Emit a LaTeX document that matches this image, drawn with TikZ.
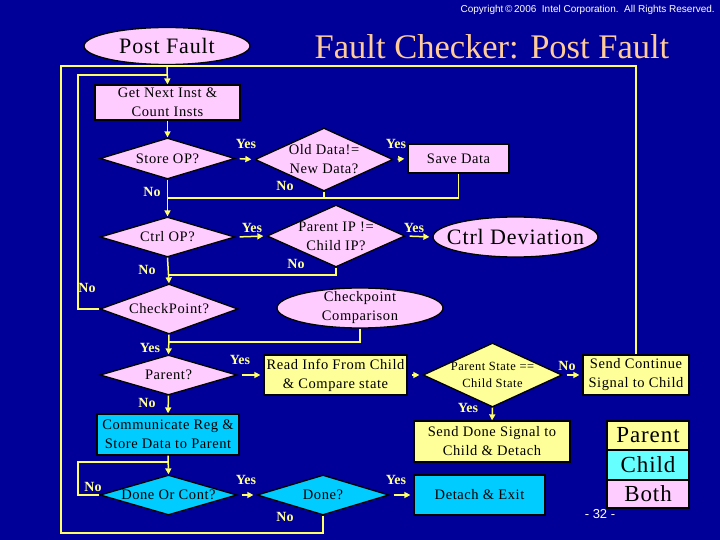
\documentclass[tikz,border=0pt]{standalone}
\usepackage{fontspec}
\setmainfont{Liberation Serif}
\setsansfont{Liberation Sans}
\newfontfamily\lsf{Liberation Serif}[LetterSpace=4]
\usetikzlibrary{shapes.geometric,arrows.meta}
\definecolor{bg}{RGB}{0,0,153}
\definecolor{pinkf}{RGB}{255,204,255}
\definecolor{cyanf}{RGB}{0,204,255}
\definecolor{cyanl}{RGB}{102,255,255}
\definecolor{yelf}{RGB}{255,255,153}
\definecolor{linec}{RGB}{255,255,102}
\definecolor{lblc}{RGB}{255,255,153}
\definecolor{titlec}{RGB}{255,204,153}
\begin{document}
\begin{tikzpicture}[x=1pt,y=-1pt,
  shp/.style={draw=black,line width=1.3pt,inner sep=0pt},
  boxn/.style={shp,rectangle,align=center,font=\lsf\fontsize{14.5}{19}\selectfont},
  dia/.style={shp,diamond},
  ell/.style={shp,ellipse},
  txt/.style={align=center,inner sep=0pt,font=\lsf\fontsize{14.5}{19}\selectfont},
  lbl/.style={text=lblc,inner sep=0pt,font=\fontsize{14}{16}\selectfont\bfseries},
  flow/.style={draw=linec,line width=1.5pt},
  arr/.style={flow,-{Triangle[length=6pt,width=6pt]}},
  sarr/.style={arr,shorten <=4pt,shorten >=3pt},
  leg/.style={shp,rectangle,minimum width=82pt,font=\lsf\fontsize{23}{24}\selectfont}
]
\fill[bg] (0,0) rectangle (720,540);
\useasboundingbox (0,0) rectangle (720,540);

% header
\node[anchor=east,text=white,inner sep=0pt,font=\sffamily\fontsize{10}{12}\selectfont] (copy) at (715,10) {Copyright\,©\,2006\ \ Intel Corporation.\ \ All Rights Reserved.};
\node[text=titlec,inner sep=0pt,font=\fontsize{34.5}{36}\selectfont] (title) at (492,47) {Fault Checker: Post Fault};
\node[ell,fill=pinkf,minimum width=166pt,minimum height=37pt] (pf) at (167,46) {};
\node[txt,font=\lsf\fontsize{22}{24}\selectfont] at (pf) {Post Fault};

% nodes
\node[boxn,fill=pinkf,minimum width=145pt,minimum height=35pt] (gni) at (167.5,102.5) {Get Next Inst \&\\Count Insts};
\node[dia,fill=pinkf,minimum width=135pt,minimum height=41pt] (st) at (167.5,158.5) {};
\node[txt] at (st) {Store OP?};
\node[dia,fill=pinkf,minimum width=138pt,minimum height=63pt] (od) at (324,159.5) {};
\node[txt] at (od) {Old Data!=\\New Data?};
\node[boxn,fill=pinkf,minimum width=101pt,minimum height=29pt] (sd) at (458.5,158.5) {Save Data};
\node[dia,fill=pinkf,minimum width=135pt,minimum height=40pt] (ct) at (167.5,237) {};
\node[txt] at (ct) {Ctrl OP?};
\node[dia,fill=pinkf,minimum width=138pt,minimum height=62pt] (pip) at (336,236) {};
\node[txt] at (pip) {Parent IP !=\\Child IP?};
\node[ell,fill=pinkf,minimum width=165pt,minimum height=40pt] (cd) at (515.5,237) {};
\node[txt,font=\lsf\fontsize{22}{24}\selectfont] at (cd) {Ctrl Deviation};
\node[dia,fill=pinkf,minimum width=138pt,minimum height=50pt] (cp) at (169,309) {};
\node[txt] at (cp) {CheckPoint?};
\node[ell,fill=pinkf,minimum width=166pt,minimum height=40pt] (cc) at (360,308) {};
\node[txt] at (cc) {Checkpoint\\Comparison};
\node[dia,fill=pinkf,minimum width=137pt,minimum height=40pt] (par) at (168.5,375) {};
\node[txt] at (par) {Parent?};
\node[boxn,fill=yelf,minimum width=143pt,minimum height=40pt] (ri) at (335.5,375) {Read Info From Child\\\& Compare state};
\node[dia,fill=yelf,minimum width=139pt,minimum height=64pt] (ps) at (492.5,375) {};
\node[txt,font=\lsf\fontsize{12.5}{17}\selectfont] at (ps) {Parent State ==\\Child State};
\node[boxn,fill=yelf,minimum width=106pt,minimum height=40pt] (sc) at (636,375) {Send Continue\\Signal to Child};
\node[boxn,fill=yelf,minimum width=156pt,minimum height=41pt] (sdn) at (492,441.5) {Send Done Signal to\\Child \& Detach};
\node[boxn,fill=cyanf,minimum width=142pt,minimum height=41pt] (com) at (168,434.5) {Communicate Reg \&\\Store Data to Parent};
\node[dia,fill=cyanf,minimum width=137pt,minimum height=40pt] (doc) at (168.5,495) {};
\node[txt] at (doc) {Done Or Cont?};
\node[dia,fill=cyanf,minimum width=132pt,minimum height=40pt] (dn) at (323,495) {};
\node[txt] at (dn) {Done?};
\node[boxn,fill=cyanf,minimum width=131pt,minimum height=40pt] (de) at (479.5,495) {Detach \& Exit};

% legend
\node[leg,fill=yelf,minimum height=29pt] (lp) at (648,435.5) {Parent};
\node[leg,fill=cyanl,minimum height=30pt] (lc) at (648,465) {Child};
\node[leg,fill=pinkf,minimum height=28pt] (lb) at (648,494) {Both};
\node[text=white,inner sep=0pt,font=\sffamily\fontsize{13}{14}\selectfont] (pg) at (600,514) {- 32 -};

% coordinates
\coordinate (oTL) at (61,66);
\coordinate (oTR) at (636,66);
\coordinate (oBL) at (61,533);
\coordinate (iT) at (78,75);
\coordinate (j1) at (167.5,198);
\coordinate (j2) at (167.5,275);
\coordinate (j3) at (169,342);
\coordinate (j4) at (78,462);

% loops
\draw[flow] (dn.south) |- (oBL) -- (oTL) -- (oTR) -- (sc.north);
\draw[flow] (cp.west) -| (iT) -- (gni.north |- iT);
\draw[flow] (sd.south) |- (j1);
\draw[flow] (od.south) -- (od.south |- j1);
\draw[flow] (pip.south) |- (j2);
\draw[flow] (cc.south) |- (j3);
\draw[flow] (doc.west) -| (j4) -- (com.south |- j4);

% arrows
\draw[arr] (pf.south) -- (gni.north);
\draw[arr] (gni.south) -- (st.north);
\draw[sarr] (st.east) -- (od.west);
\draw[sarr] (od.east) -- (sd.west);
\draw[arr] (st.south) -- (ct.north);
\draw[sarr] (ct.east) -- (pip.west);
\draw[sarr] (pip.east) -- (cd.west);
\draw[arr] (ct.south) -- (cp.north);
\draw[arr] (cp.south) -- (par.north);
\draw[sarr] (par.east) -- (ri.west);
\draw[sarr] (ri.east) -- (ps.west);
\draw[sarr] (ps.east) -- (sc.west);
\draw[arr] (ps.south) -- (sdn.north);
\draw[arr] (par.south) -- (com.north);
\draw[arr] (com.south) -- (doc.north);
\draw[sarr] (doc.east) -- (dn.west);
\draw[sarr] (dn.east) -- (de.west);

% labels
\node[lbl] at (246,144) {Yes};
\node[lbl] at (285,186) {No};
\node[lbl] at (396,144) {Yes};
\node[lbl] at (152,192) {No};
\node[lbl] at (252,228) {Yes};
\node[lbl] at (414,228) {Yes};
\node[lbl] at (296,264) {No};
\node[lbl] at (147,270) {No};
\node[lbl] at (87,288) {No};
\node[lbl] at (150,348) {Yes};
\node[lbl] at (240,360) {Yes};
\node[lbl] at (567,366) {No};
\node[lbl] at (468,408) {Yes};
\node[lbl] at (147,403) {No};
\node[lbl] at (93,487) {No};
\node[lbl] at (246,480) {Yes};
\node[lbl] at (285,517) {No};
\node[lbl] at (396,480) {Yes};
\end{tikzpicture}
\end{document}
